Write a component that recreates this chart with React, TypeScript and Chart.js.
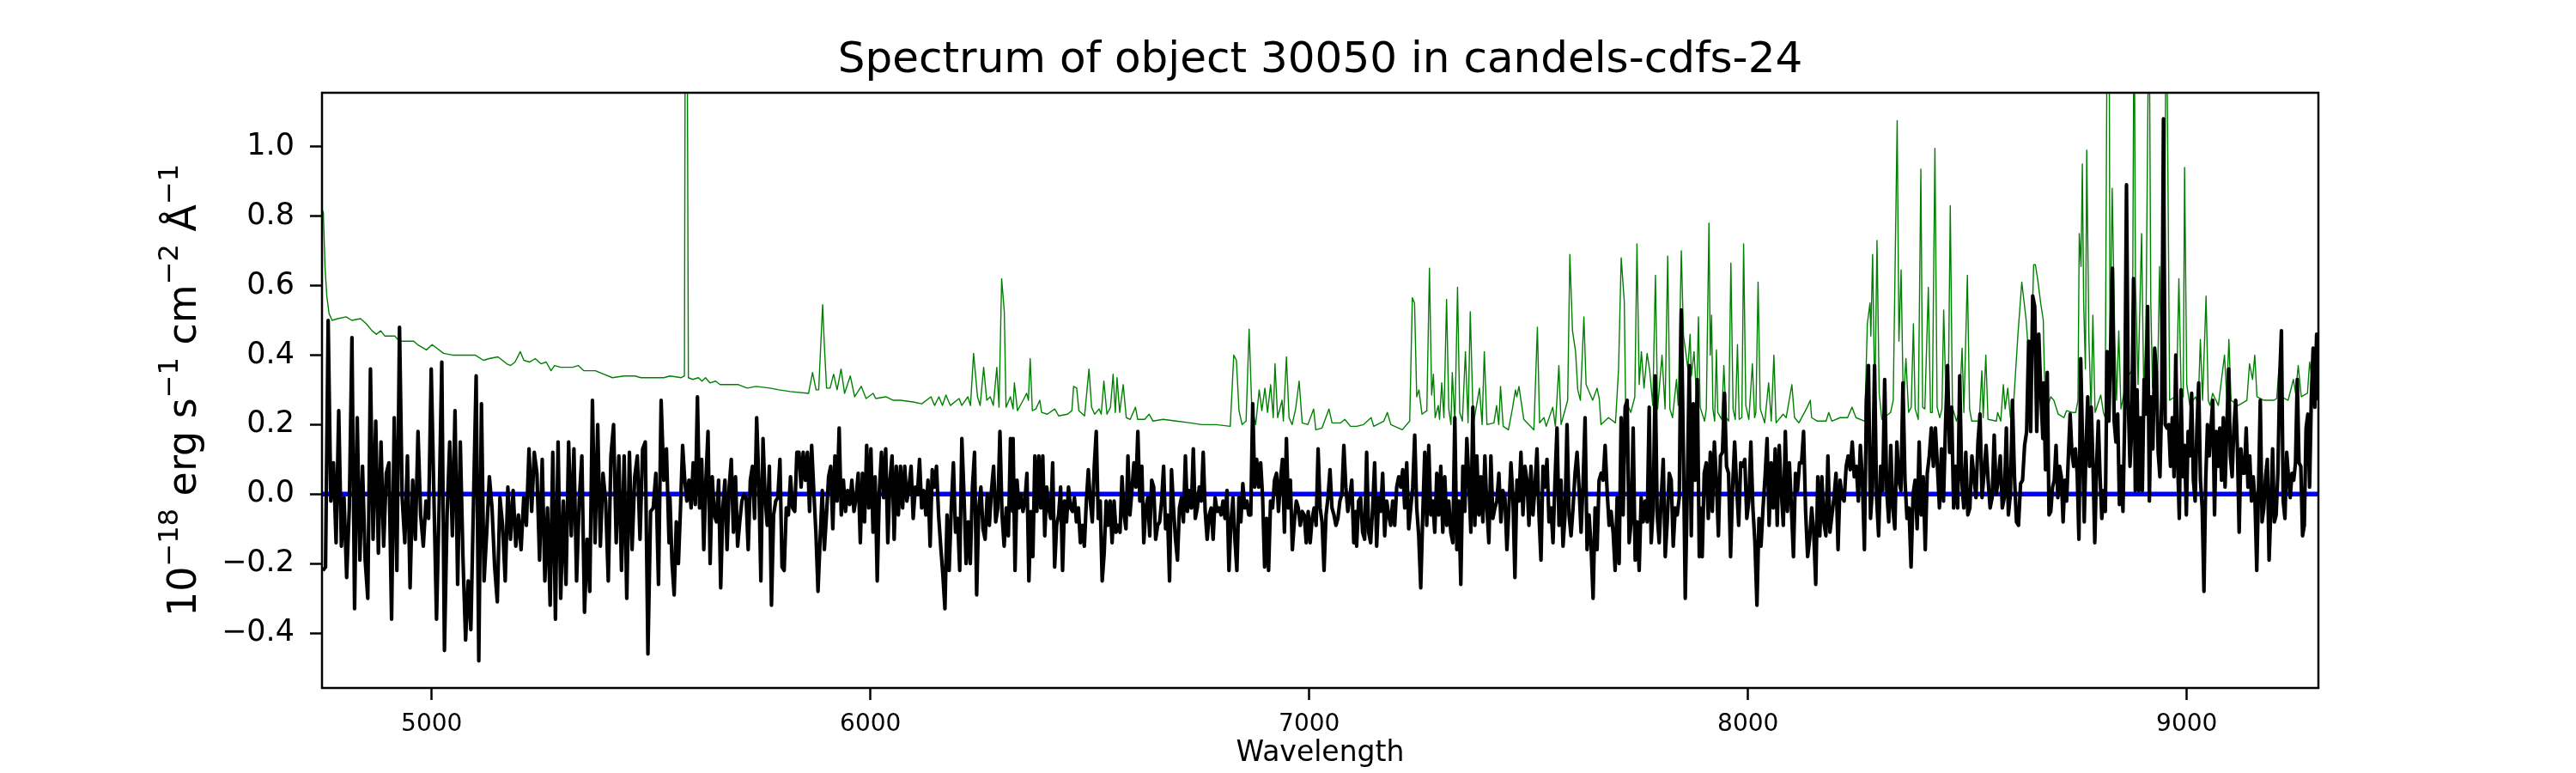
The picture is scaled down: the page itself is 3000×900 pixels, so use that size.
import React, { useEffect, useRef } from 'react';
import { Chart, registerables } from 'chart.js';

Chart.register(...registerables);

// axis limits and ticks
const X_MIN = 4750;
const X_MAX = 9300;
const Y_MIN = -0.558;
const Y_MAX = 1.155;
const xTicks = [5000, 6000, 7000, 8000, 9000];
const yTicks = [-0.4, -0.2, 0, 0.2, 0.4, 0.6, 0.8, 1.0];

const TITLE = 'Spectrum of object 30050 in candels-cdfs-24';
const X_LABEL = 'Wavelength';
const yLabelParts = [
  { text: '10', sup: false },
  { text: '\u221218', sup: true },
  { text: ' erg s', sup: false },
  { text: '\u22121', sup: true },
  { text: ' cm', sup: false },
  { text: '\u22122', sup: true },
  { text: ' \u00c5', sup: false },
  { text: '\u22121', sup: true },
];

const segStart = [4752, 5543, 6325, 7108, 7891, 8674];
const segEnd = [5541, 6324, 7106, 7889, 8672, 9300];

const fluxA = [
  -0.22, -0.21, 0.5, -0.02, 0.09, -0.14, 0.24, -0.15, -0.01, -0.24,
  -0.04, 0.45, -0.33, 0.22, -0.19, 0.08, -0.19, -0.3, 0.36, -0.13,
  0.21, -0.17, 0.15, -0.15, 0.06, 0.09, -0.36, 0.22, -0.22, 0.48,
  -0.01, -0.14, 0.11, -0.27, 0.04, -0.13, 0.18, -0.06, -0.15, -0.02,
  -0.07, 0.36, 0.0, -0.36, -0.03, 0.38, -0.45, -0.06, 0.15, -0.12,
  0.24, -0.26, 0.15, -0.18, -0.42, -0.25, -0.39, -0.02, 0.34, -0.48,
  0.26, -0.25, -0.11, 0.05, -0.04, -0.21, -0.31, -0.01, -0.09, -0.25,
  0.02, -0.13, 0.01, -0.15, -0.06, -0.16, -0.01, -0.09, 0.13, -0.05,
  0.12, 0.06, -0.19, 0.1, -0.25, -0.04, -0.32, 0.12, -0.36, 0.15,
  -0.3, -0.02, -0.26, 0.15, -0.12, 0.13, -0.25, -0.02, 0.11, -0.34,
  -0.13, -0.28, 0.27, -0.14, 0.2, -0.15, 0.06, -0.02, -0.25, 0.11,
  0.2, -0.14, 0.11, -0.22, 0.11, -0.3, 0.12, -0.16, 0.05, 0.11,
  -0.13, 0.13, 0.15, -0.46, -0.05, -0.04, 0.06, -0.26, 0.27, 0.04,
  0.13, -0.14,
];

const fluxB = [
  -0.01, -0.2, -0.29, -0.08, -0.2, -0.04, 0.14, 0.04, -0.02, 0.04,
  -0.04, 0.09, -0.03, 0.28, -0.04, 0.1, -0.16, 0.04, 0.18, -0.2,
  0.05, -0.06, -0.08, 0.04, -0.27, -0.04, 0.04, -0.16, 0.02, 0.1,
  -0.11, 0.05, -0.15, -0.08, -0.02, 0.0, -0.01, -0.16, 0.04, 0.08,
  -0.07, 0.22, 0.04, -0.25, 0.16, -0.01, -0.09, 0.08, -0.32, -0.06,
  -0.02, -0.01, 0.1, -0.21, -0.22, -0.04, -0.06, 0.05, -0.04, -0.05,
  0.12, 0.12, 0.02, 0.12, 0.04, 0.12, -0.05, 0.14, 0.01, -0.11,
  -0.28, -0.13, 0.01, -0.16, -0.06, 0.05, 0.08, -0.1, 0.11, -0.02,
  0.19, -0.06, 0.04, -0.05, 0.01, -0.03, 0.04, -0.05, -0.01, 0.06,
  -0.14, 0.06, -0.08, 0.14, -0.04, 0.13, -0.11, 0.05, -0.25, 0.01,
  0.12, -0.01, 0.13, -0.14, 0.04, 0.11, -0.13, 0.08, -0.06, 0.08,
  -0.04, 0.08, -0.02, 0.02, 0.08, -0.07, 0.02, 0.0, 0.1, -0.04,
  0.01, -0.06, 0.04, -0.15, 0.07, 0.02, 0.08, -0.06, -0.15, -0.23,
  -0.33, -0.06, -0.22, -0.04, 0.09, -0.11, -0.07, -0.22, 0.16, 0.0,
  -0.2, -0.08, -0.2, 0.02, 0.12, -0.29, -0.04, 0.02, -0.1, -0.13,
  0.0, -0.09, 0.01, 0.08, -0.08, -0.04, 0.18, -0.06, -0.15, -0.04,
  -0.12, 0.16, -0.05,
];

const fluxC = [
  0.16, -0.22, 0.04, -0.04, 0.0, -0.05, -0.02, 0.06, -0.25, -0.05,
  -0.18, 0.11, -0.05, 0.11, -0.04, 0.11, -0.12, 0.02, -0.04, -0.07,
  0.09, -0.21, -0.09, -0.06, 0.02, -0.22, -0.02, -0.08, 0.02, -0.04,
  -0.05, -0.01, -0.08, -0.04, -0.14, -0.09, -0.15, -0.02, 0.07, -0.02,
  -0.08, 0.08, 0.18, -0.07, -0.02, -0.25, -0.17, -0.02, -0.09, -0.02,
  -0.14, -0.02, -0.11, -0.09, -0.11, 0.05, -0.06, -0.1, 0.11, -0.06,
  0.01, 0.09, 0.02, 0.18, -0.02, 0.08, -0.14, -0.04, -0.01, -0.12,
  0.04, 0.02, -0.13, -0.09, -0.08, -0.02, 0.08, -0.1, -0.06, -0.25,
  0.07, -0.04, -0.13, -0.19, -0.04, -0.01, -0.08, 0.11, -0.05, 0.01,
  -0.04, 0.13, -0.07, -0.04, 0.02, -0.02, 0.12, -0.05, -0.13, -0.06,
  -0.04, -0.13, -0.01, -0.05, -0.04, -0.06, -0.02, -0.07, 0.01, -0.22,
  -0.08, -0.01, -0.13, -0.22, -0.01, -0.08, 0.03, -0.04, -0.02, -0.06,
  -0.06, 0.26, 0.02, 0.1, 0.02, 0.09, -0.01, -0.21, -0.07, -0.22,
  -0.02, -0.04, 0.04, 0.06, -0.05, 0.04, 0.1, -0.11, 0.16, -0.04,
  0.04, -0.16, -0.08, -0.02, -0.04, -0.09, -0.05, -0.06, -0.14, -0.05,
  -0.14, -0.07, -0.04, -0.09, 0.13, -0.04, -0.08, -0.22, -0.06, -0.01,
  0.07, -0.04, -0.06, -0.09, -0.07, -0.02, 0.0, 0.14, 0.02, -0.05,
  -0.01, 0.04, -0.14, -0.05,
];

const fluxD = [
  -0.15, -0.02, -0.01, -0.11, -0.13, 0.12, -0.11, -0.14, -0.04, 0.09,
  -0.15, -0.01, -0.05, 0.06, -0.12, -0.02, -0.06, -0.09, -0.02, -0.09,
  0.02, 0.05, 0.02, 0.07, -0.04, 0.09, -0.1, -0.04, 0.02, 0.17,
  -0.04, -0.12, -0.27, -0.06, 0.12, -0.09, 0.14, -0.06, -0.02, -0.11,
  0.06, -0.06, 0.08, -0.11, 0.05, -0.09, -0.02, -0.11, -0.14, 0.22,
  -0.16, -0.02, -0.26, 0.08, -0.05, 0.16, 0.04, -0.11, 0.25, -0.09,
  0.11, -0.06, 0.05, -0.08, 0.11, -0.04, -0.14, 0.11, -0.07, -0.04,
  -0.02, 0.06, -0.08, 0.01, -0.01, -0.16, -0.04, 0.09, -0.01, -0.24,
  0.04, -0.02, 0.12, -0.06, 0.08, 0.04, -0.09, 0.08, -0.06, 0.02,
  0.13, -0.06, -0.19, 0.08, 0.02, 0.1, -0.08, -0.04, -0.14, 0.04,
  0.19, -0.09, 0.04, -0.15, -0.06, 0.2, -0.06, -0.12, -0.04, 0.06,
  0.12, 0.02, -0.11, 0.03, 0.22, -0.16, -0.06, -0.15, -0.3, -0.04,
  -0.16, 0.04, 0.06, 0.04, 0.14, 0.01, -0.09, -0.05, -0.11, -0.22,
  -0.01, -0.2, 0.22, -0.06, 0.25, 0.27, -0.14, -0.08, 0.19, -0.19,
  -0.08, -0.22, -0.01, -0.08, -0.02, -0.08, 0.25, -0.14, -0.04, 0.34,
  -0.06, -0.14, -0.01, 0.1, -0.18, -0.08, 0.06, 0.04, -0.15, -0.04,
  -0.06, -0.01, 0.53, 0.15, -0.3, 0.01, 0.37, -0.12, 0.26, 0.04,
  0.33, -0.18,
];

const fluxE = [
  -0.04, -0.18, 0.06, 0.09, -0.07, 0.12, -0.05, 0.15, 0.04, -0.12,
  0.11, 0.12, 0.29, 0.08, 0.06, -0.18, 0.02, 0.15, 0.02, -0.09,
  0.09, 0.08, 0.1, -0.07, -0.02, 0.15, -0.04, -0.14, -0.32, -0.07,
  -0.15, -0.04, 0.05, 0.16, -0.09, 0.09, -0.04, 0.13, -0.09, 0.14,
  0.01, -0.09, 0.18, -0.05, 0.09, -0.04, -0.18, 0.06, 0.01, 0.09,
  0.09, 0.18, -0.05, -0.18, -0.13, -0.04, -0.11, -0.26, 0.05, -0.12,
  0.05, -0.08, -0.12, 0.11, -0.11, -0.06, -0.01, 0.06, -0.16, 0.04,
  -0.01, -0.02, 0.08, 0.11, 0.07, 0.15, 0.05, 0.08, -0.02, 0.14,
  0.04, -0.16, 0.27, 0.37, -0.07, 0.02, 0.37, -0.01, -0.12, 0.08,
  0.01, 0.33, 0.01, -0.08, 0.14, -0.04, -0.1, 0.15, 0.04, 0.01,
  0.32, 0.04, -0.07, -0.04, -0.21, 0.0, 0.04, -0.1, 0.15, -0.06,
  0.05, -0.16, 0.06, 0.11, 0.19, 0.08, 0.19, 0.08, -0.04, 0.13,
  -0.02, 0.2, 0.37, 0.12, 0.25, -0.04, 0.08, -0.04, 0.34, 0.04,
  -0.04, 0.12, -0.06, -0.04, 0.11, 0.05, -0.01, 0.15, 0.23, -0.01,
  0.06, 0.14, 0.04, -0.04, -0.01, 0.17, 0.0, 0.04, 0.11, -0.04,
  -0.01, 0.19, -0.06, 0.0, 0.27, 0.05, -0.08, -0.09, 0.03, 0.04,
  0.14, 0.18, 0.44, 0.18, 0.57, 0.54, 0.18, 0.46, 0.29, 0.16,
];

const fluxF = [
  0.32, 0.07, 0.35, -0.06, -0.05, 0.02, 0.04, 0.14, -0.01, 0.08,
  0.05, -0.08, 0.04, -0.02, 0.11, 0.23, 0.12, 0.08, 0.13, 0.06,
  -0.13, 0.39, 0.16, -0.08, 0.13, 0.28, 0.08, 0.25, 0.08, -0.14,
  0.08, 0.21, 0.05, -0.07, 0.01, -0.05, 0.41, 0.21, 0.42, 0.65,
  0.21, 0.15, 0.23, -0.03, 0.08, -0.05, 0.22, 0.89, 0.27, 0.08,
  0.19, 0.62, 0.01, 0.3, 0.01, 0.22, 0.01, 0.33, 0.23, 0.54,
  -0.02, 0.28, 0.13, 0.42, 0.35, 0.12, 0.05, 0.27, 1.08, 0.2,
  0.19, 0.2, 0.08, 0.22, 0.05, 0.4, 0.1, -0.07, 0.3, 0.05,
  0.14, -0.06, 0.18, 0.11, 0.29, 0.04, -0.02, 0.19, 0.32, 0.04,
  -0.04, -0.28, 0.04, 0.2, 0.11, 0.19, 0.27, -0.06, 0.18, 0.08,
  0.19, 0.04, 0.22, 0.02, 0.19, 0.36, 0.11, 0.05, 0.19, 0.27,
  0.13, -0.11, 0.13, 0.06, 0.06, 0.19, 0.02, 0.11, -0.02, 0.05,
  -0.02, -0.22, 0.02, 0.27, -0.08, -0.04, 0.05, 0.1, -0.19, -0.04,
  0.13, -0.08, -0.06, 0.06, 0.33, 0.47, -0.02, -0.07, 0.12, 0.05,
  -0.01, 0.06, 0.04, 0.09, 0.33, 0.09, 0.08, -0.12, -0.09, 0.19,
  0.23, 0.02, 0.28, 0.42, 0.25, 0.46, 0.27,
];

const fluxSegments = [fluxA, fluxB, fluxC, fluxD, fluxE, fluxF];

// sky spectrum as [wavelength, flux]
const skySpectrum: [number, number][] = [
  [4750, 0.82], [4753, 0.81], [4757, 0.65], [4761, 0.57], [4766, 0.52], [4773, 0.5], [4786, 0.505], [4805, 0.51],
  [4818, 0.5], [4838, 0.505], [4851, 0.49], [4864, 0.47], [4874, 0.46], [4884, 0.47], [4893, 0.455], [4916, 0.455],
  [4926, 0.44], [4949, 0.44], [4959, 0.44], [4968, 0.43], [4988, 0.415], [5001, 0.43], [5027, 0.405], [5047, 0.4],
  [5073, 0.4], [5099, 0.4], [5118, 0.385], [5131, 0.39], [5151, 0.395], [5171, 0.375], [5180, 0.37], [5190, 0.38],
  [5202, 0.41], [5210, 0.385], [5223, 0.38], [5236, 0.39], [5249, 0.375], [5261, 0.38], [5272, 0.355], [5280, 0.37],
  [5294, 0.365], [5321, 0.365], [5334, 0.37], [5347, 0.355], [5373, 0.355], [5392, 0.345], [5412, 0.335], [5438, 0.34],
  [5463, 0.34], [5477, 0.335], [5503, 0.335], [5529, 0.335],
  [5543, 0.34], [5569, 0.335], [5576, 0.34], [5578, 1.5], [5582, 1.5], [5585, 0.335], [5595, 0.33], [5608, 0.335],
  [5616, 0.325], [5624, 0.335], [5634, 0.32], [5647, 0.325], [5657, 0.315], [5673, 0.315], [5699, 0.315], [5719, 0.305],
  [5739, 0.31], [5771, 0.305], [5791, 0.3], [5817, 0.295], [5859, 0.29], [5868, 0.35], [5876, 0.3], [5882, 0.3],
  [5891, 0.545], [5895, 0.425], [5900, 0.305], [5908, 0.305], [5916, 0.345], [5924, 0.3], [5933, 0.36], [5941, 0.29],
  [5954, 0.34], [5964, 0.28], [5979, 0.31], [5990, 0.275], [6006, 0.29], [6012, 0.275], [6035, 0.28], [6052, 0.27],
  [6068, 0.27], [6097, 0.265], [6117, 0.26], [6138, 0.28], [6146, 0.255], [6156, 0.28], [6164, 0.255], [6172, 0.285],
  [6182, 0.255], [6202, 0.275], [6208, 0.255], [6222, 0.28], [6228, 0.255], [6235, 0.405], [6244, 0.28], [6250, 0.255],
  [6258, 0.365], [6265, 0.27], [6273, 0.28], [6280, 0.255], [6288, 0.365], [6293, 0.25], [6299, 0.62], [6305, 0.525],
  [6309, 0.25], [6319, 0.28],
  [6325, 0.245], [6328, 0.32], [6335, 0.24], [6348, 0.27], [6356, 0.29], [6360, 0.27], [6364, 0.39], [6369, 0.24],
  [6377, 0.245], [6386, 0.27], [6390, 0.235], [6403, 0.23], [6420, 0.245], [6429, 0.225], [6449, 0.23], [6459, 0.24],
  [6463, 0.31], [6470, 0.305], [6475, 0.24], [6488, 0.225], [6498, 0.36], [6504, 0.25], [6511, 0.23], [6521, 0.245],
  [6526, 0.23], [6532, 0.325], [6539, 0.23], [6547, 0.25], [6553, 0.345], [6558, 0.235], [6562, 0.335], [6568, 0.235],
  [6576, 0.315], [6583, 0.22], [6592, 0.215], [6604, 0.25], [6609, 0.215], [6625, 0.215], [6635, 0.23], [6644, 0.21],
  [6667, 0.215], [6697, 0.21], [6729, 0.205], [6755, 0.2], [6788, 0.2], [6820, 0.195], [6828, 0.4], [6834, 0.385],
  [6840, 0.24], [6847, 0.2], [6856, 0.21], [6863, 0.475], [6869, 0.25], [6878, 0.2], [6886, 0.3], [6892, 0.24],
  [6899, 0.305], [6905, 0.235], [6912, 0.315], [6918, 0.22], [6922, 0.375], [6928, 0.22], [6938, 0.27], [6941, 0.21],
  [6948, 0.395], [6954, 0.22], [6961, 0.2], [6969, 0.245], [6977, 0.325], [6984, 0.205], [6997, 0.2], [7010, 0.245],
  [7015, 0.185], [7029, 0.19], [7045, 0.245], [7052, 0.205], [7072, 0.205], [7081, 0.215], [7094, 0.195],
  [7108, 0.195], [7124, 0.2], [7141, 0.22], [7147, 0.195], [7170, 0.21], [7178, 0.235], [7186, 0.2], [7212, 0.185],
  [7229, 0.21], [7235, 0.565], [7240, 0.55], [7245, 0.28], [7250, 0.3], [7257, 0.23], [7268, 0.24], [7274, 0.65],
  [7279, 0.285], [7283, 0.345], [7287, 0.22], [7294, 0.255], [7297, 0.215], [7302, 0.32], [7307, 0.22], [7313, 0.56],
  [7318, 0.245], [7323, 0.2], [7326, 0.35], [7332, 0.205], [7338, 0.595], [7343, 0.235], [7349, 0.21], [7356, 0.41],
  [7362, 0.205], [7367, 0.525], [7374, 0.2], [7388, 0.305], [7394, 0.2], [7399, 0.41], [7405, 0.2], [7421, 0.205],
  [7427, 0.255], [7432, 0.2], [7436, 0.31], [7442, 0.195], [7454, 0.185], [7463, 0.245], [7470, 0.3], [7473, 0.28],
  [7478, 0.31], [7489, 0.215], [7512, 0.185], [7520, 0.48], [7525, 0.205], [7535, 0.22], [7540, 0.195], [7555, 0.25],
  [7561, 0.195], [7569, 0.37], [7574, 0.2], [7589, 0.27], [7594, 0.69], [7600, 0.47], [7607, 0.41], [7612, 0.3],
  [7618, 0.27], [7626, 0.51], [7631, 0.315], [7646, 0.27], [7656, 0.305], [7661, 0.275], [7665, 0.2], [7682, 0.22],
  [7698, 0.205], [7705, 0.36], [7711, 0.68], [7718, 0.555], [7721, 0.27], [7733, 0.235], [7742, 0.28], [7747, 0.72],
  [7752, 0.315], [7757, 0.41], [7763, 0.305], [7770, 0.405], [7776, 0.355], [7783, 0.255], [7789, 0.63], [7794, 0.245],
  [7804, 0.4], [7811, 0.245], [7817, 0.685], [7822, 0.245], [7828, 0.22], [7837, 0.33], [7841, 0.255], [7848, 0.7],
  [7853, 0.455], [7858, 0.41], [7863, 0.36], [7868, 0.46], [7871, 0.34], [7877, 0.41], [7883, 0.27], [7887, 0.51],
  [7891, 0.25], [7901, 0.21], [7905, 0.245], [7911, 0.78], [7914, 0.4], [7917, 0.515], [7920, 0.245], [7924, 0.21],
  [7928, 0.415], [7931, 0.235], [7940, 0.215], [7945, 0.37], [7950, 0.22], [7956, 0.21], [7961, 0.665], [7966, 0.245],
  [7971, 0.215], [7976, 0.43], [7980, 0.215], [7986, 0.22], [7990, 0.72], [7995, 0.255], [8002, 0.215], [8010, 0.375],
  [8015, 0.22], [8018, 0.235], [8023, 0.61], [8028, 0.245], [8038, 0.205], [8047, 0.32], [8053, 0.21], [8059, 0.4],
  [8064, 0.205], [8080, 0.23], [8087, 0.22], [8100, 0.315], [8106, 0.22], [8116, 0.205], [8135, 0.25], [8142, 0.27],
  [8145, 0.22], [8158, 0.21], [8178, 0.21], [8184, 0.235], [8191, 0.21], [8210, 0.22], [8227, 0.22], [8237, 0.25],
  [8246, 0.22], [8266, 0.21], [8272, 0.49], [8278, 0.55], [8280, 0.455], [8284, 0.69], [8289, 0.255], [8294, 0.73],
  [8299, 0.29], [8305, 0.215], [8325, 0.235], [8331, 0.27], [8340, 1.075], [8344, 0.44], [8349, 0.645], [8354, 0.255],
  [8360, 0.39], [8366, 0.235], [8372, 0.25], [8377, 0.49], [8381, 0.245], [8388, 0.215], [8394, 0.935], [8398, 0.25],
  [8403, 0.245], [8411, 0.595], [8416, 0.235], [8420, 0.235], [8426, 0.995], [8431, 0.25], [8437, 0.22], [8442, 0.245],
  [8446, 0.53], [8452, 0.235], [8456, 0.22], [8461, 0.83], [8466, 0.25], [8475, 0.21], [8481, 0.235], [8488, 0.42],
  [8492, 0.235], [8500, 0.63], [8505, 0.245], [8510, 0.21], [8527, 0.21], [8533, 0.355], [8536, 0.22], [8542, 0.4],
  [8547, 0.215], [8566, 0.21], [8569, 0.235], [8576, 0.21], [8582, 0.315], [8586, 0.245], [8592, 0.305], [8598, 0.22],
  [8605, 0.255], [8615, 0.455], [8624, 0.61], [8634, 0.5], [8644, 0.32], [8651, 0.66], [8655, 0.66], [8660, 0.62],
  [8667, 0.55], [8673, 0.5],
  [8674, 0.43], [8677, 0.28], [8684, 0.255], [8690, 0.28], [8697, 0.27], [8707, 0.23], [8720, 0.22], [8726, 0.24],
  [8739, 0.235], [8747, 0.235], [8752, 0.27], [8755, 0.75], [8759, 0.655], [8762, 0.95], [8765, 0.55], [8769, 0.36],
  [8772, 0.99], [8777, 0.445], [8782, 0.235], [8786, 0.515], [8791, 0.235], [8804, 0.285], [8810, 0.235], [8814, 0.22],
  [8819, 1.5], [8823, 1.5], [8825, 0.385], [8830, 0.88], [8836, 0.445], [8840, 0.27], [8845, 0.47], [8850, 0.245],
  [8863, 0.33], [8876, 0.36], [8880, 1.5], [8883, 0.62], [8889, 0.315], [8897, 0.75], [8902, 0.29], [8907, 0.48],
  [8914, 1.5], [8918, 0.55], [8922, 0.305], [8933, 0.29], [8938, 0.655], [8943, 0.27], [8948, 0.245], [8953, 1.5],
  [8956, 1.09], [8961, 0.27], [8973, 0.28], [8977, 0.315], [8982, 0.62], [8987, 0.305], [8992, 0.28], [8995, 0.94],
  [9000, 0.315], [9007, 0.255], [9020, 0.28], [9026, 0.255], [9031, 0.445], [9036, 0.27], [9044, 0.57], [9049, 0.27],
  [9053, 0.255], [9059, 0.29], [9072, 0.255], [9086, 0.4], [9091, 0.28], [9096, 0.445], [9101, 0.27], [9117, 0.255],
  [9137, 0.27], [9143, 0.375], [9150, 0.33], [9155, 0.4], [9160, 0.28], [9176, 0.27], [9199, 0.27], [9205, 0.275],
  [9210, 0.36], [9215, 0.28], [9231, 0.27], [9243, 0.33], [9248, 0.29], [9254, 0.37], [9261, 0.28], [9275, 0.29],
  [9280, 0.38], [9287, 0.315], [9293, 0.305], [9300, 0.315],
];

const zeroLevel = 0;

// each stretch is sampled evenly between its end wavelengths
function objectPoints() {
  const pts: { x: number; y: number }[] = [];
  fluxSegments.forEach((vals, s) => {
    const step = (segEnd[s] - segStart[s]) / (vals.length - 1);
    vals.forEach((v, i) => pts.push({ x: segStart[s] + i * step, y: v }));
  });
  return pts;
}

const FONT = '"DejaVu Sans", "Liberation Sans", sans-serif';

// frame, title and axis labels drawn the way matplotlib places them
const decorations = {
  id: 'decorations',
  afterDraw(chart: Chart) {
    const { ctx, chartArea: a } = chart;
    const midX = (a.left + a.right) / 2;
    const midY = (a.top + a.bottom) / 2;
    ctx.save();
    ctx.strokeStyle = '#000';
    ctx.lineWidth = 2.5;
    ctx.strokeRect(a.left, a.top, a.right - a.left, a.bottom - a.top);

    ctx.fillStyle = '#000';
    ctx.textAlign = 'center';
    ctx.textBaseline = 'alphabetic';
    ctx.font = `50px ${FONT}`;
    ctx.fillText(TITLE, midX, 84);
    ctx.font = `33px ${FONT}`;
    ctx.fillText(X_LABEL, midX, 886);

    const mainFont = `46px ${FONT}`;
    const supFont = `32px ${FONT}`;
    let total = 0;
    const widths = yLabelParts.map((p) => {
      ctx.font = p.sup ? supFont : mainFont;
      const w = ctx.measureText(p.text).width;
      total += w;
      return w;
    });
    ctx.translate(228, midY);
    ctx.rotate(-Math.PI / 2);
    ctx.textAlign = 'left';
    let x = -total / 2;
    yLabelParts.forEach((p, i) => {
      ctx.font = p.sup ? supFont : mainFont;
      ctx.fillText(p.text, x, p.sup ? -21 : 0);
      x += widths[i];
    });
    ctx.restore();
  },
};

const App: React.FC = () => {
  const canvasRef = useRef<HTMLCanvasElement | null>(null);
  const chartRef = useRef<Chart | null>(null);

  useEffect(() => {
    document.body.style.margin = '0';
    if (!canvasRef.current) return;
    if (chartRef.current) chartRef.current.destroy();

    chartRef.current = new Chart(canvasRef.current, {
      type: 'line',
      data: {
        datasets: [
          {
            label: 'object',
            data: objectPoints(),
            borderColor: '#000000',
            borderWidth: 4.2,
            pointRadius: 0,
            tension: 0,
            borderJoinStyle: 'round',
            order: 0,
            clip: 0,
          },
          {
            label: 'sky',
            data: skySpectrum.map(([w, f]) => ({ x: w, y: f })),
            borderColor: '#008000',
            borderWidth: 1.4,
            pointRadius: 0,
            tension: 0,
            borderJoinStyle: 'round',
            order: 1,
            clip: 0,
          },
          {
            label: 'zero',
            data: [
              { x: X_MIN, y: zeroLevel },
              { x: X_MAX, y: zeroLevel },
            ],
            borderColor: '#0000ff',
            borderWidth: 5.5,
            pointRadius: 0,
            order: 2,
            clip: 0,
          },
        ],
      },
      options: {
        responsive: false,
        animation: false,
        events: [],
        layout: { padding: { top: 108, right: 300, bottom: 0, left: 0 } },
        plugins: {
          legend: { display: false },
          tooltip: { enabled: false },
          title: { display: false },
        },
        scales: {
          x: {
            type: 'linear',
            min: X_MIN,
            max: X_MAX,
            afterFit: (scale: any) => {
              scale.height = 99;
            },
            afterBuildTicks: (scale: any) => {
              scale.ticks = xTicks.map((v) => ({ value: v }));
            },
            ticks: {
              color: '#000',
              font: { family: FONT, size: 28 },
              padding: 12,
              maxRotation: 0,
              callback: (v: any) => String(v),
            },
            grid: {
              drawOnChartArea: false,
              drawTicks: true,
              tickLength: 14,
              tickColor: '#000',
              tickWidth: 2.5,
            },
            border: { display: false },
          },
          y: {
            type: 'linear',
            min: Y_MIN,
            max: Y_MAX,
            afterFit: (scale: any) => {
              scale.width = 375;
            },
            afterBuildTicks: (scale: any) => {
              scale.ticks = yTicks.map((v) => ({ value: v }));
            },
            ticks: {
              color: '#000',
              font: { family: FONT, size: 35 },
              padding: 18,
              callback: (v: any) => Number(v).toFixed(1).replace('-', '\u2212'),
            },
            grid: {
              drawOnChartArea: false,
              drawTicks: true,
              tickLength: 14,
              tickColor: '#000',
              tickWidth: 2.5,
            },
            border: { display: false },
          },
        },
      },
      plugins: [decorations],
    });

    return () => {
      if (chartRef.current) {
        chartRef.current.destroy();
        chartRef.current = null;
      }
    };
  }, []);

  return (
    <div style={{ width: 3000, height: 900, background: '#fff' }}>
      <canvas ref={canvasRef} width={3000} height={900} style={{ display: 'block' }} />
    </div>
  );
};

export default App;
